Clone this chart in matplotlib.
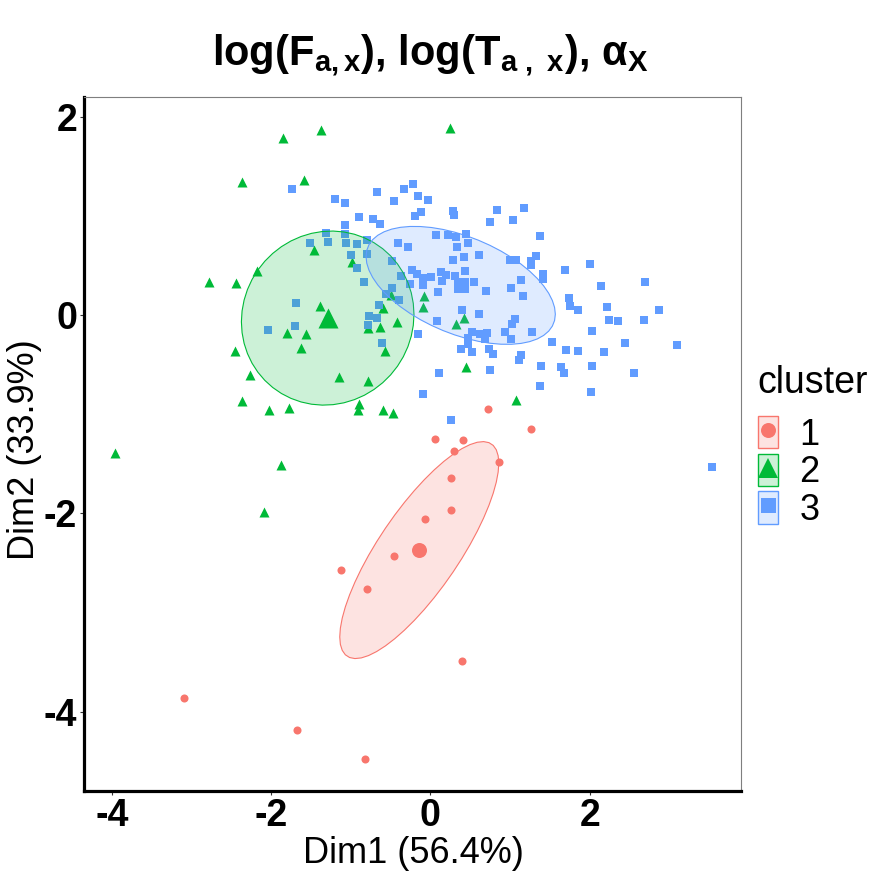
import numpy as np
import matplotlib
matplotlib.use("Agg")
import matplotlib.pyplot as plt
from matplotlib.patches import Polygon, Rectangle
from matplotlib.lines import Line2D
from matplotlib.legend_handler import HandlerTuple

# ── data: PCA scores per cluster (Dim1, Dim2) ──
c1_dim1 = [0.72, 1.26, 0.06, 0.41, 0.30, 0.86, 0.26, 0.26, -0.07, -0.46,
           -1.12, -0.80, 0.40, -3.10, -1.68, -0.82]
c1_dim2 = [-0.95, -1.15, -1.25, -1.26, -1.37, -1.48, -1.64, -1.97, -2.06, -2.43,
           -2.57, -2.76, -3.49, -3.86, -4.18, -4.48]

c2_dim1 = [-1.85, -1.38, 0.24, -2.37, -1.59, -2.78, -2.44, -2.18, -1.46, -0.99,
           -1.39, -1.80, -1.56, -1.63, -2.46, -2.26, -1.15, -0.79, -2.36, -2.03,
           -1.77, -0.90, -0.91, -0.60, -0.47, -0.79, -0.63, -0.42, -0.60, -0.57,
           -0.50, -0.08, -0.09, 0.42, 0.32, 0.45, 1.07, -3.96, -1.87, -2.09]
c2_dim2 = [1.79, 1.87, 1.89, 1.34, 1.36, 0.33, 0.32, 0.44, 0.66, 0.54,
           0.09, -0.18, -0.19, -0.33, -0.36, -0.60, -0.62, -0.66, -0.87, -0.96,
           -0.94, -0.90, -0.96, -0.96, -0.99, -0.13, -0.12, -0.07, 0.07, -0.36,
           0.20, 0.19, 0.08, -0.03, -0.09, -0.52, -0.86, -1.39, -1.51, -1.99]

c3_dim1 = [-1.74, -1.20, -1.07, -0.67, -0.46, -0.33, -0.22, -0.16, -0.03, -0.90,
           -0.72, -0.63, -0.12, -0.19, 0.28, 0.30, 0.84, 1.17, 0.75, 1.04,
           -1.07, -1.07, -1.06, -1.31, -1.51, -1.28, -0.92, -0.80, -0.41, -0.28,
           -1.00, -0.80, -0.92, -0.48, -0.23, -0.37, -0.26, -0.84, -0.48, -0.56,
           -0.40, -1.69, -0.65, -0.77, -0.67, -0.79, -1.70, -2.04, -0.61, 0.07,
           0.22, 0.32, 0.45, 0.47, 0.33, 1.38, 0.28, 0.42, 0.61, 1.00,
           1.07, 1.26, 1.26, 1.33, -0.17, -0.09, -0.09, 0.01, 0.13, 0.19,
           0.14, 0.31, 0.43, 0.38, 0.38, 0.55, 0.70, 1.01, 1.14, 1.16,
           1.41, 1.41, 1.69, 1.74, 1.75, 1.85, 0.09, 0.40, 0.61, 0.08,
           -0.16, 0.52, 0.62, 0.71, 0.47, 0.68, 0.47, 0.38, 0.52, 0.73,
           0.79, 1.06, 1.02, 0.94, 1.01, 1.28, 1.14, 1.11, 1.53, 1.70,
           1.85, 1.39, 1.64, 1.68, 0.11, 0.75, 1.38, -0.09, 0.26, 2.00,
           2.14, 2.69, 2.22, 2.24, 2.36, 2.68, 2.87, 2.03, 2.44, 2.18,
           3.10, 2.03, 2.56, 2.02, 3.54]
c3_dim2 = [1.27, 1.17, 1.13, 1.24, 1.15, 1.27, 1.32, 1.20, 1.16, 0.99,
           0.97, 0.92, 1.04, 1.00, 1.05, 1.01, 1.06, 1.08, 0.94, 0.96,
           0.91, 0.82, 0.73, 0.83, 0.73, 0.74, 0.72, 0.76, 0.73, 0.69,
           0.61, 0.62, 0.48, 0.55, 0.46, 0.39, 0.31, 0.33, 0.27, 0.21,
           0.15, 0.12, 0.10, -0.01, -0.03, -0.10, -0.11, -0.15, -0.28, 0.81,
           0.81, 0.79, 0.82, 0.73, 0.69, 0.80, 0.56, 0.59, 0.61, 0.56,
           0.56, 0.55, 0.51, 0.60, 0.41, 0.37, 0.30, 0.38, 0.43, 0.40,
           0.34, 0.39, 0.44, 0.32, 0.27, 0.33, 0.24, 0.27, 0.35, 0.19,
           0.41, 0.36, 0.45, 0.17, 0.09, 0.05, 0.23, 0.05, 0.01, -0.06,
           -0.19, -0.17, -0.19, -0.18, -0.23, -0.24, -0.29, -0.34, -0.37, -0.34,
           -0.39, -0.04, -0.09, -0.17, -0.24, -0.17, -0.40, -0.45, -0.27, -0.35,
           -0.36, -0.51, -0.52, -0.58, -0.58, -0.55, -0.72, -0.80, -1.06, 0.52,
           0.29, 0.33, 0.08, -0.05, -0.06, -0.05, 0.05, -0.16, -0.28, -0.37,
           -0.30, -0.51, -0.58, -0.78, -1.53]

# cluster centres
centre_dim1 = [-0.14, -1.29, 0.38]
centre_dim2 = [-2.37, -0.03, 0.30]

cluster_names = ["1", "2", "3"]
colors = ["#F8766D", "#00BA38", "#619CFF"]
markers = ["o", "^", "s"]
pt_size = [5.8, 7.2, 5.8]
ctr_size = [10.8, 14.4, 10.8]
key_size = [10.8, 13.7, 10.8]

ELLIPSE_LEVEL = 0.5


def cov_trob(xy, nu=5, maxit=25, tol=0.01):
    # same as MASS::cov.trob
    n, p = xy.shape
    loc = xy.mean(axis=0)
    w = np.ones(n)
    for _ in range(maxit):
        w0 = w
        X = xy - loc
        sw = np.sqrt(w / w.sum())
        _, d, vt = np.linalg.svd(sw[:, None] * X, full_matrices=False)
        wX = X @ vt.T @ np.diag(1.0 / d)
        Q = (wX ** 2).sum(axis=1)
        w = (nu + p) / (nu + Q)
        loc = (w[:, None] * xy).sum(axis=0) / w.sum()
        if np.all(np.abs(w - w0) < tol):
            break
    sX = np.sqrt(w)[:, None] * X
    return loc, sX.T @ sX / n


def t_ellipse(x, y, centre, level=0.95, segments=51):
    xy = np.column_stack([x, y])
    n = len(xy)
    _, shape = cov_trob(xy)
    dfd = n - 1
    qf = dfd / 2.0 * ((1 - level) ** (-2.0 / dfd) - 1)
    radius = np.sqrt(2 * qf)
    ang = np.linspace(0, 2 * np.pi, segments)
    circ = np.column_stack([np.cos(ang), np.sin(ang)])
    L = np.linalg.cholesky(shape)
    return np.asarray(centre) + radius * circ @ L.T


plt.rcParams["font.family"] = ["Liberation Sans", "DejaVu Sans"]
plt.rcParams["axes.unicode_minus"] = False
plt.rcParams["mathtext.fontset"] = "custom"
plt.rcParams["mathtext.rm"] = "Liberation Sans:bold"
plt.rcParams["mathtext.it"] = "Liberation Sans:bold"
plt.rcParams["mathtext.bf"] = "Liberation Sans:bold"

fig = plt.figure(figsize=(8.8, 8.8), dpi=100)
ax = fig.add_axes([84 / 880, 1 - 791 / 880, (741 - 84) / 880, (791 - 97) / 880])

series = [(c1_dim1, c1_dim2), (c2_dim1, c2_dim2), (c3_dim1, c3_dim2)]

for i, (xs, ys) in enumerate(series):
    ax.scatter(xs, ys, marker=markers[i], s=pt_size[i] ** 2, color=colors[i],
               linewidths=0, zorder=2)
    ax.scatter([centre_dim1[i]], [centre_dim2[i]], marker=markers[i],
               s=ctr_size[i] ** 2, color=colors[i], linewidths=0, zorder=2)

for i, (xs, ys) in enumerate(series):
    ell = t_ellipse(xs, ys, (centre_dim1[i], centre_dim2[i]), ELLIPSE_LEVEL)
    ax.add_patch(Polygon(ell, closed=True, facecolor=colors[i], alpha=0.2,
                         edgecolor="none", zorder=3))
    ax.add_patch(Polygon(ell, closed=True, facecolor="none",
                         edgecolor=colors[i], linewidth=0.8, zorder=3))

ax.set_xlim(-4.35, 3.90)
ax.set_ylim(-4.80, 2.20)
ax.set_xticks([-4, -2, 0, 2])
ax.set_yticks([-4, -2, 0, 2])
ax.tick_params(axis="both", direction="out", length=3, width=0.8,
               color="#333333", labelsize=27, pad=2)
for lab in ax.get_xticklabels() + ax.get_yticklabels():
    lab.set_fontweight("bold")

for s in ["left", "bottom"]:
    ax.spines[s].set_color("black")
    ax.spines[s].set_linewidth(2.3)
for s in ["top", "right"]:
    ax.spines[s].set_color("#7f7f7f")
    ax.spines[s].set_linewidth(0.8)

fig.text(413 / 880, 1 - 853 / 880, "Dim1 (56.4%)", fontsize=26,
         ha="center", va="center")
fig.text(24 / 880, 1 - 450 / 880, "Dim2 (33.9%)", fontsize=26,
         ha="center", va="center", rotation=90)
fig.text(430 / 880, 1 - 55 / 880,
         r"log(F$_{a,x}$), log(T$_{a\ ,\ x}$), α$_{X}$",
         fontsize=30, fontweight="bold", ha="center", va="center")

# legend: title as its own text, keys = filled box + marker
fig.text(757 / 880, 1 - 393 / 880, "cluster", fontsize=27,
         ha="left", va="baseline")
handles = []
for i in range(3):
    box = Rectangle((0, 0), 1, 1, facecolor=colors[i] + "33",
                    edgecolor=colors[i], linewidth=1.0)
    mk = Line2D([], [], linestyle="none", marker=markers[i],
                markersize=key_size[i], color=colors[i], markeredgewidth=0)
    handles.append((box, mk))

fig.legend(handles, cluster_names, loc="upper left",
           bbox_to_anchor=(758 / 880, 1 - 416 / 880),
           handler_map={tuple: HandlerTuple(ndivide=1)},
           fontsize=26, handlelength=0.55, handleheight=1.0,
           labelspacing=0.03, handletextpad=0.6, borderpad=0,
           borderaxespad=0, frameon=False)

fig.savefig("out.png", dpi=100)
